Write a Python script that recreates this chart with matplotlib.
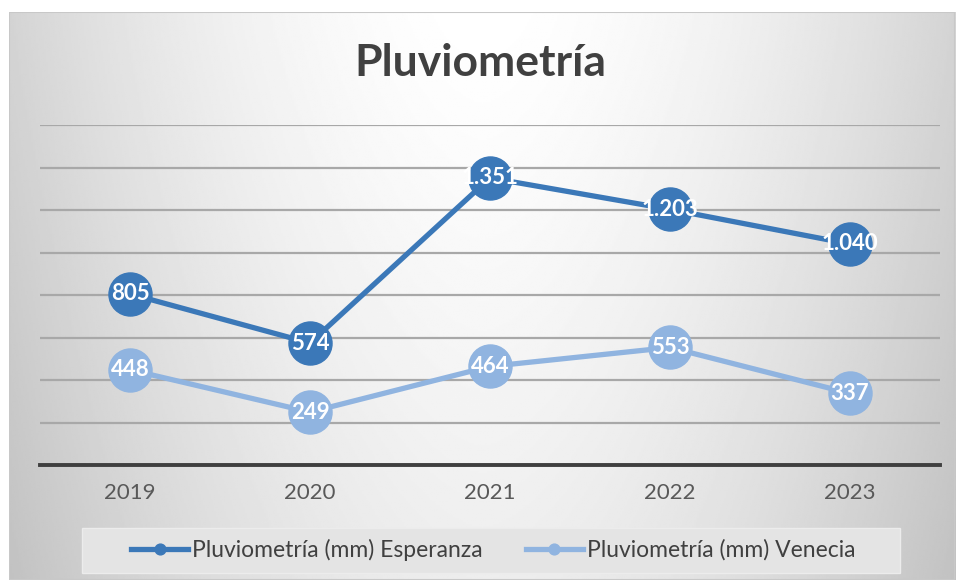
import numpy as np
import matplotlib.pyplot as plt
from matplotlib.patches import Rectangle

years = ['2019', '2020', '2021', '2022', '2023']
esperanza = [805, 574, 1351, 1203, 1040]
venecia = [448, 249, 464, 553, 337]
series_names = ['Pluviometría (mm) Esperanza', 'Pluviometría (mm) Venecia']

dark = '#3b78b8'
light = '#90b4e0'

plt.rcParams['font.family'] = ['Lato', 'DejaVu Sans']

fig = plt.figure(figsize=(9.6, 5.8), dpi=100, facecolor='white')

# chart area background: lighter in the upper middle, grey towards the sides
bg = fig.add_axes([9 / 960, 0, 946 / 960, 568 / 580])
yy, xx = np.mgrid[1:-1:300j, -1:1:500j]
shade = 1.0 - 0.17 * np.abs(xx) ** 1.7 - 0.07 * ((1 - yy) / 2) ** 1.2
shade = np.clip(shade, 0.76, 1.0)
bg.imshow(shade, cmap='gray', vmin=0, vmax=1, aspect='auto', extent=[0, 1, 0, 1])
bg.set_xlim(0, 1)
bg.set_ylim(0, 1)
bg.axis('off')
bg.add_patch(Rectangle((0, 0), 1, 1, fill=False, edgecolor='#c8c8c8', lw=1.5,
                       transform=bg.transAxes))

# legend box (wider than the legend content)
fig.patches.append(Rectangle((82 / 960, 1 - 573 / 580), 818 / 960, 45 / 580,
                             transform=fig.transFigure, facecolor='#e4e4e4',
                             edgecolor='#ececec', lw=1, zorder=0.5))

ax = fig.add_axes([40 / 960, 115 / 580, 900 / 960, 340 / 580])
ax.patch.set_alpha(0)
x = np.arange(len(years))

ax.set_ylim(0, 1600)
ax.set_xlim(-0.5, len(years) - 0.5)
for v in range(200, 1601, 200):
    ax.axhline(v, color='#a8a8a8', lw=1.6, zorder=1)
for s in ['top', 'right', 'left']:
    ax.spines[s].set_visible(False)
ax.spines['bottom'].set_color('#3f3f3f')
ax.spines['bottom'].set_linewidth(2.8)
ax.set_yticks([])
ax.set_xticks(x)
ax.set_xticklabels(years, color='#595959', fontsize=16)
ax.tick_params(axis='x', length=0, pad=13)

def fmt(v):
    return '{:,}'.format(v).replace(',', '.')

for vals, col, name in [(esperanza, dark, series_names[0]), (venecia, light, series_names[1])]:
    ax.plot(x, vals, color=col, lw=3.8, marker='o', markersize=31,
            markeredgecolor=col, label=name, zorder=3, clip_on=False)
    for xi, v in zip(x, vals):
        ax.text(xi, v, fmt(v), color='white', fontsize=16, fontweight='bold',
                ha='center', va='center', zorder=4)

fig.text(0.5, 1 - 63 / 580, 'Pluviometría', ha='center', va='center',
         fontsize=32, fontweight='bold', color='#404040')

leg = fig.legend(loc='center', bbox_to_anchor=(493 / 960, 1 - 550 / 580), ncol=2,
                 frameon=False, fontsize=16.5, markerscale=0.25, handlelength=2.5,
                 handletextpad=0.15, columnspacing=1.9, borderpad=0.3,
                 borderaxespad=0)
for t in leg.get_texts():
    t.set_color('#404040')

fig.savefig('out.png', dpi=100, facecolor='white')
